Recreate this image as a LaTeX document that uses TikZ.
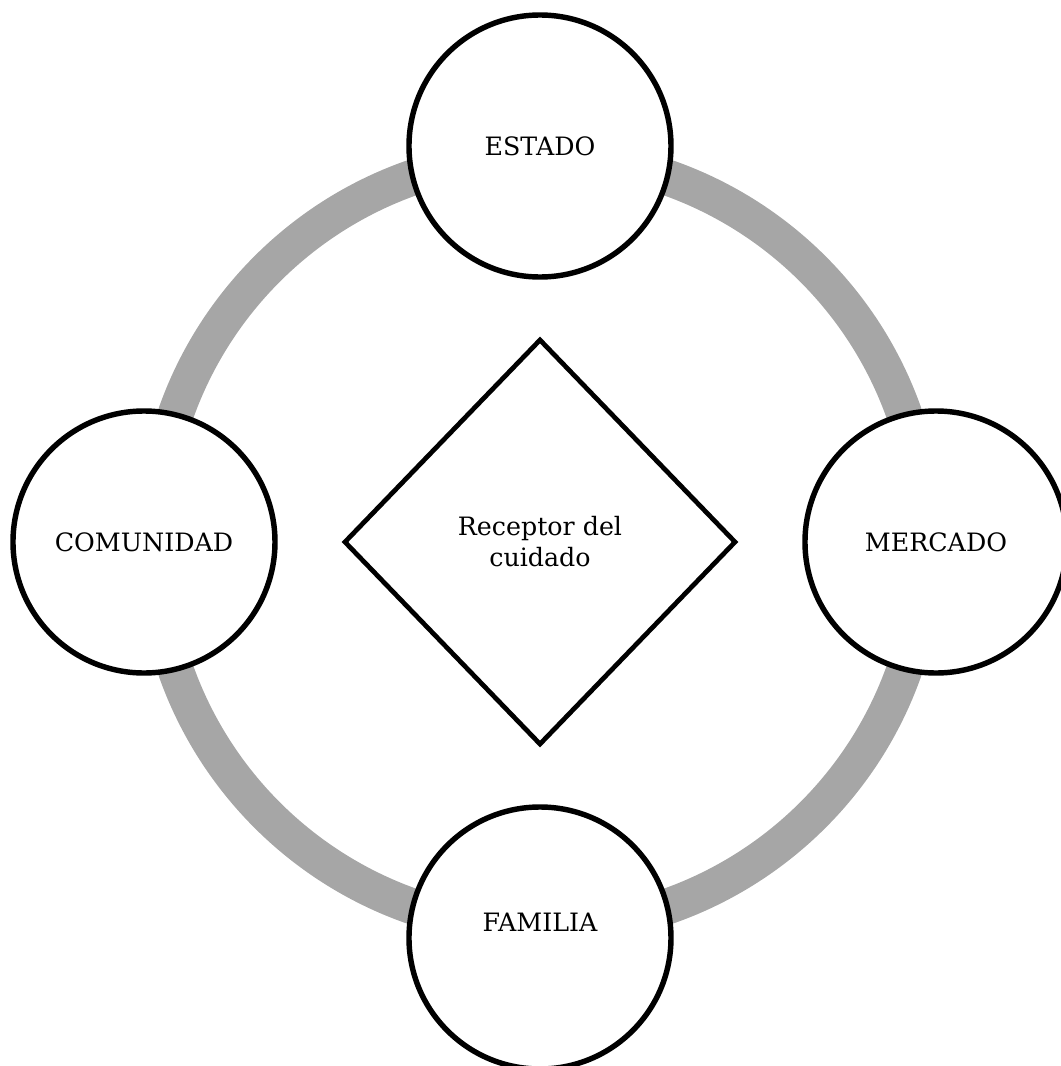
\documentclass[tikz,border=0pt]{standalone}
\usepackage{fontspec}
\setmainfont{DejaVu Serif}
\usetikzlibrary{positioning,shapes.geometric}

\begin{document}
\begin{tikzpicture}[
        node distance=1.2cm
    ]
    \colorlet{anillo}{black!35}

    \clip (-10.8,-10.48) rectangle (10.42,10.84);

    \node (rec) at (0,0) [diamond,draw,line width=2.7pt,minimum width=7.84cm,minimum height=8.12cm,
        align=center,font=\fontsize{14.4}{17.6}\selectfont] {Receptor del\\cuidado};

    \draw [anillo,line width=0.72cm] (rec.center) circle [radius=7.72cm];

    \begin{scope}[
        every node/.style={circle,draw,fill=white,line width=3.1pt,minimum size=5.24cm,
            font=\fontsize{14.4}{17.6}\selectfont}
    ]
        \node (est) at (0,7.92)  {ESTADO};
        \node (mer) at (7.92,0)  {MERCADO};
        \node (fam) at (0,-7.92) {\raisebox{0.32cm}[\height][\depth]{FAMILIA}};
        \node (com) at (-7.92,0) {COMUNIDAD};
    \end{scope}
\end{tikzpicture}
\end{document}
